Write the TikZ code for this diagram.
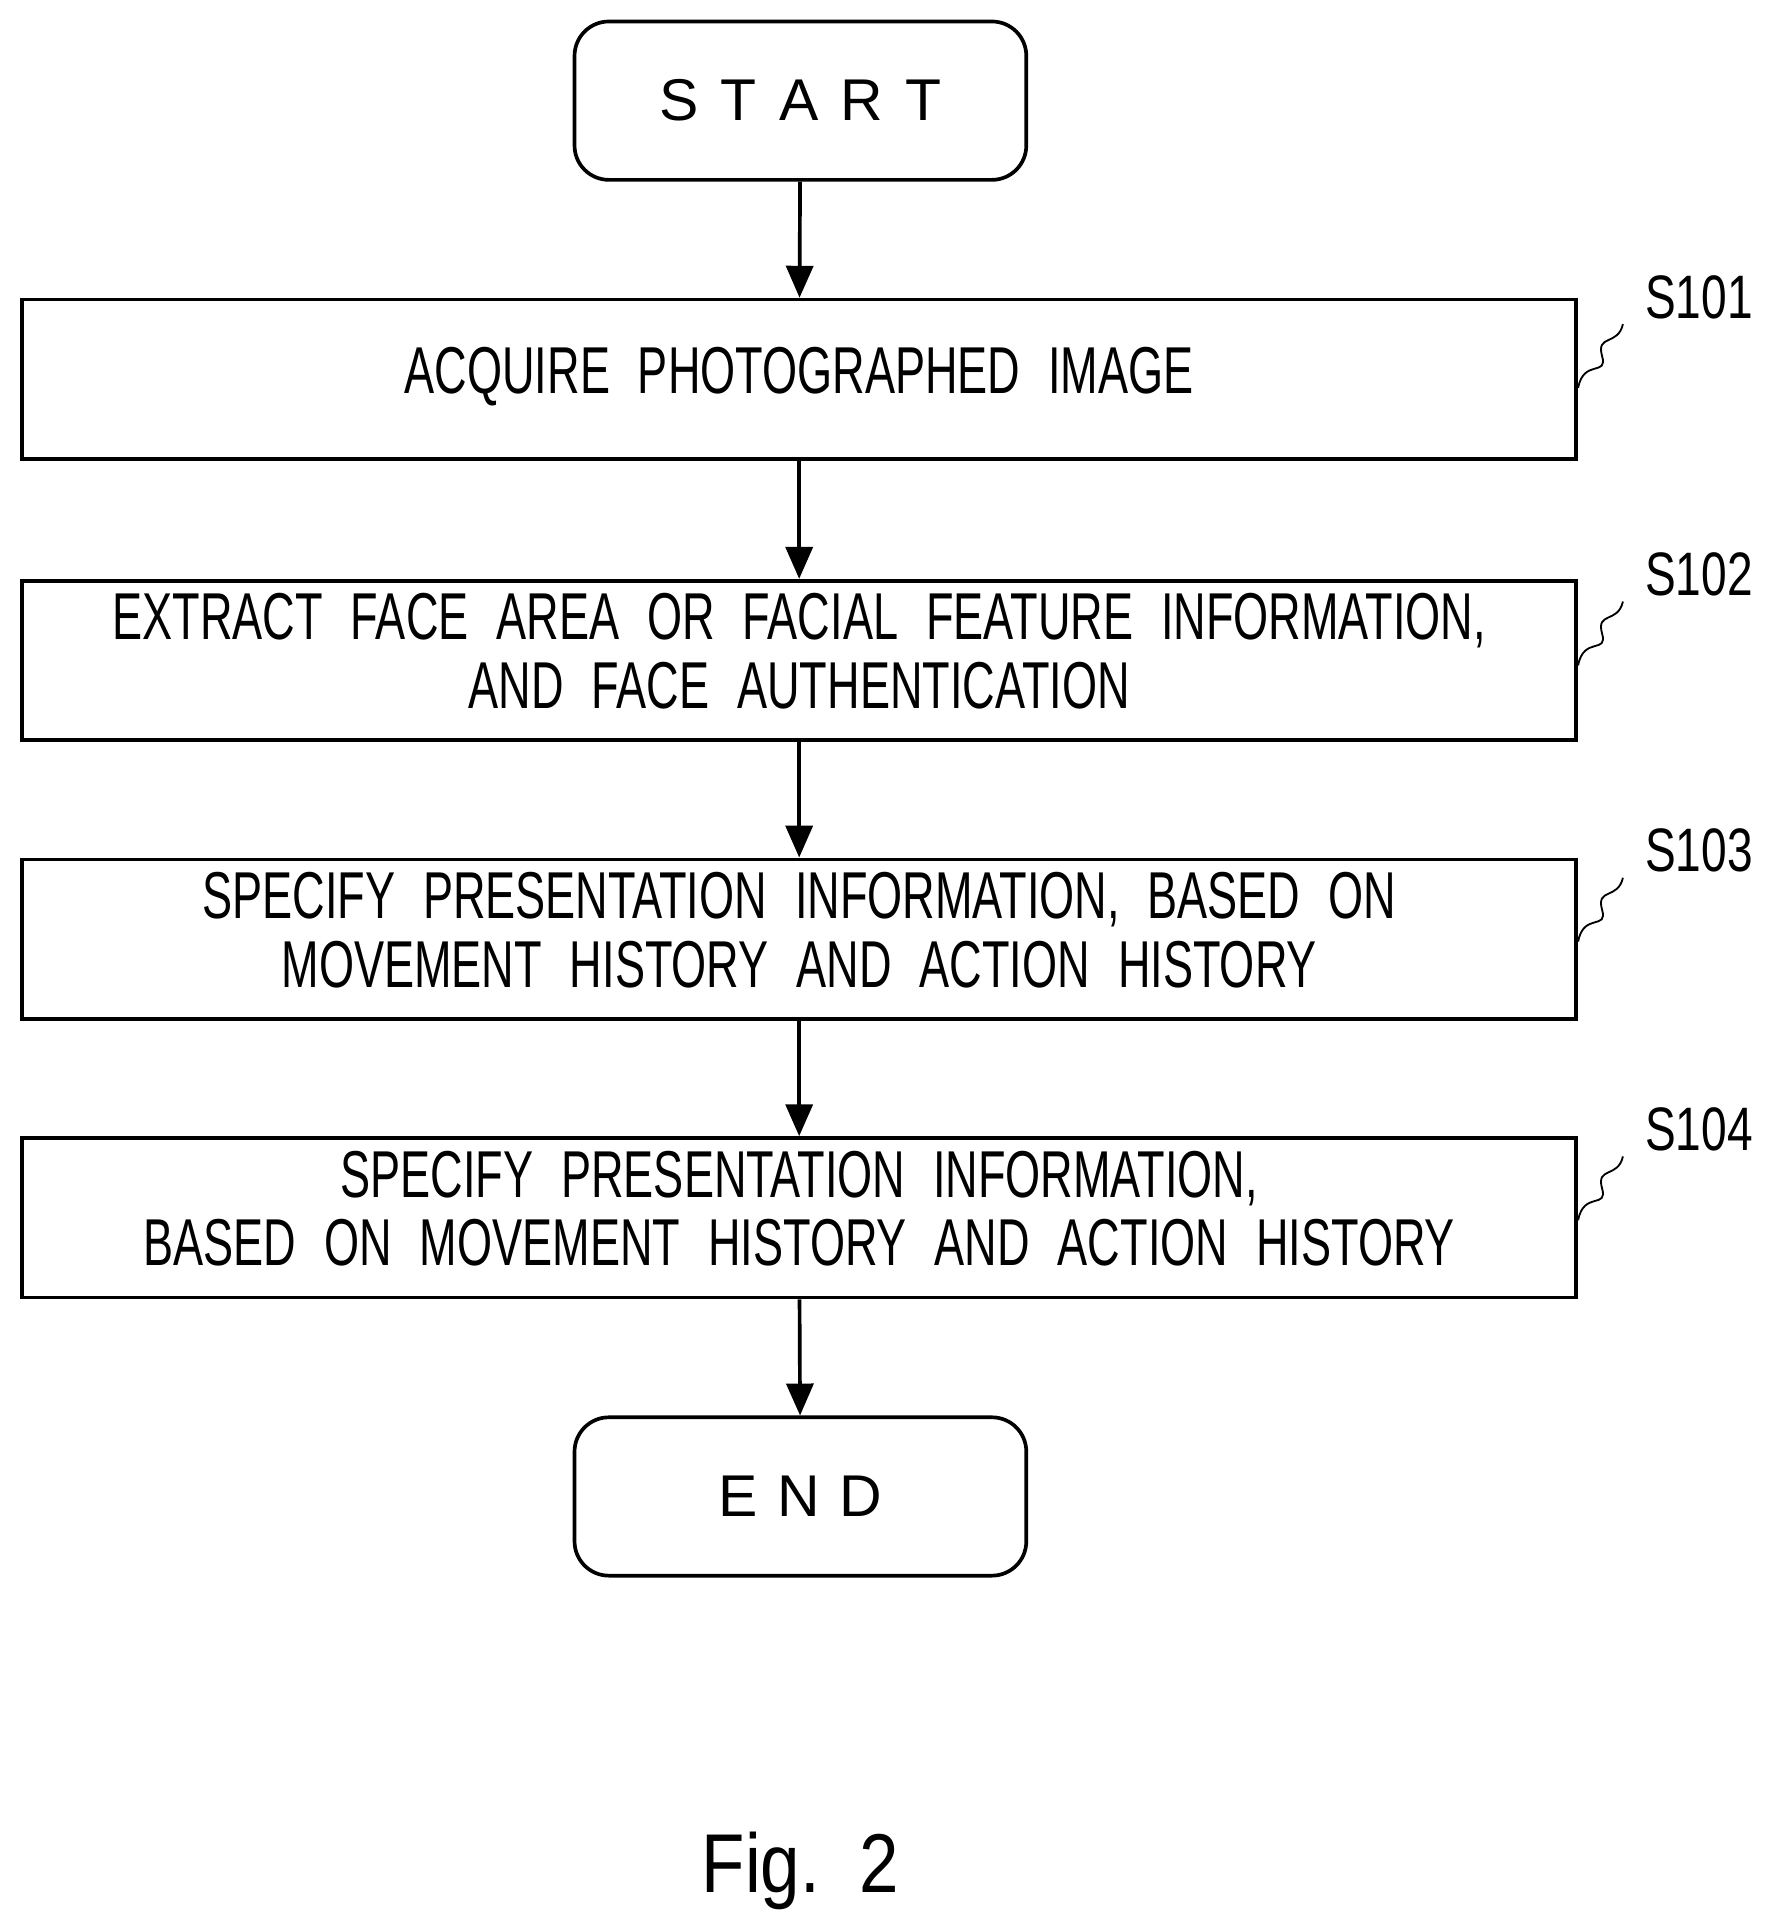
\documentclass[tikz,border=0pt]{standalone}
\usepackage{fontspec}
\setmainfont{Liberation Sans}
\usetikzlibrary{arrows.meta}
\newcommand{\nt}[1]{\raisebox{-6pt}{\scalebox{0.68}[1]{\spaceskip=0.62em\relax\begin{tabular}{@{}c@{}}#1\end{tabular}}}}
\begin{document}
\begin{tikzpicture}[x=1pt,y=-1pt,
  box/.style={draw,line width=3pt,minimum width=1266pt,minimum height=130pt,inner sep=0pt,font=\fontsize{54}{56}\selectfont},
  term/.style={draw,line width=3pt,rounded corners=28pt,minimum width=368pt,minimum height=129pt,inner sep=0pt,font=\fontsize{48}{50}\selectfont},
  arr/.style={line width=3pt,-{Triangle[length=26pt,width=22pt]}},
  lab/.style={font=\fontsize{50}{52}\selectfont,inner sep=0pt},
  sq/.style={line width=1.5pt}]
\useasboundingbox (0,0) rectangle (1444,1564);
\node[term] (start) at (652,82) {S\hspace{0.38em}T\hspace{0.38em}A\hspace{0.38em}R\hspace{0.38em}T};
\node[box] (b1) at (651,309) {\nt{ACQUIRE PHOTOGRAPHED IMAGE}};
\node[box] (b2) at (651,538) {\nt{EXTRACT FACE AREA OR FACIAL FEATURE INFORMATION,\\AND FACE AUTHENTICATION}};
\node[box] (b3) at (651,765) {\nt{SPECIFY PRESENTATION INFORMATION, BASED ON\\MOVEMENT HISTORY AND ACTION HISTORY}};
\node[box] (b4) at (651,992) {\nt{SPECIFY PRESENTATION INFORMATION,\\BASED ON MOVEMENT HISTORY AND ACTION HISTORY}};
\node[term] (end) at (652,1219) {E\hspace{0.33em}N\hspace{0.33em}D};
\draw[arr] (start) -- (b1);
\draw[arr] (b1) -- (b2);
\draw[arr] (b2) -- (b3);
\draw[arr] (b3) -- (b4);
\draw[arr] (b4) -- (end);
\foreach \n/\y/\t in {1/242/S101,2/468/S102,3/693/S103,4/920/S104}{
  \node[lab] (s\n) at (1384,\y) {\scalebox{0.75}[1]{\t}};
  \coordinate (q\n) at (1322,\y+22);
  \draw[sq] (b\n.east |- 0,\y+74) .. controls (1290,\y+50) and (1310,\y+65) .. (1305,\y+48) .. controls (1300,\y+30) and (1318,\y+40) .. (q\n);
}
\node[font=\fontsize{68}{70}\selectfont] (fig) at (652,1524) {\scalebox{0.85}[1]{Fig.\ \ 2}};
\end{tikzpicture}
\end{document}
